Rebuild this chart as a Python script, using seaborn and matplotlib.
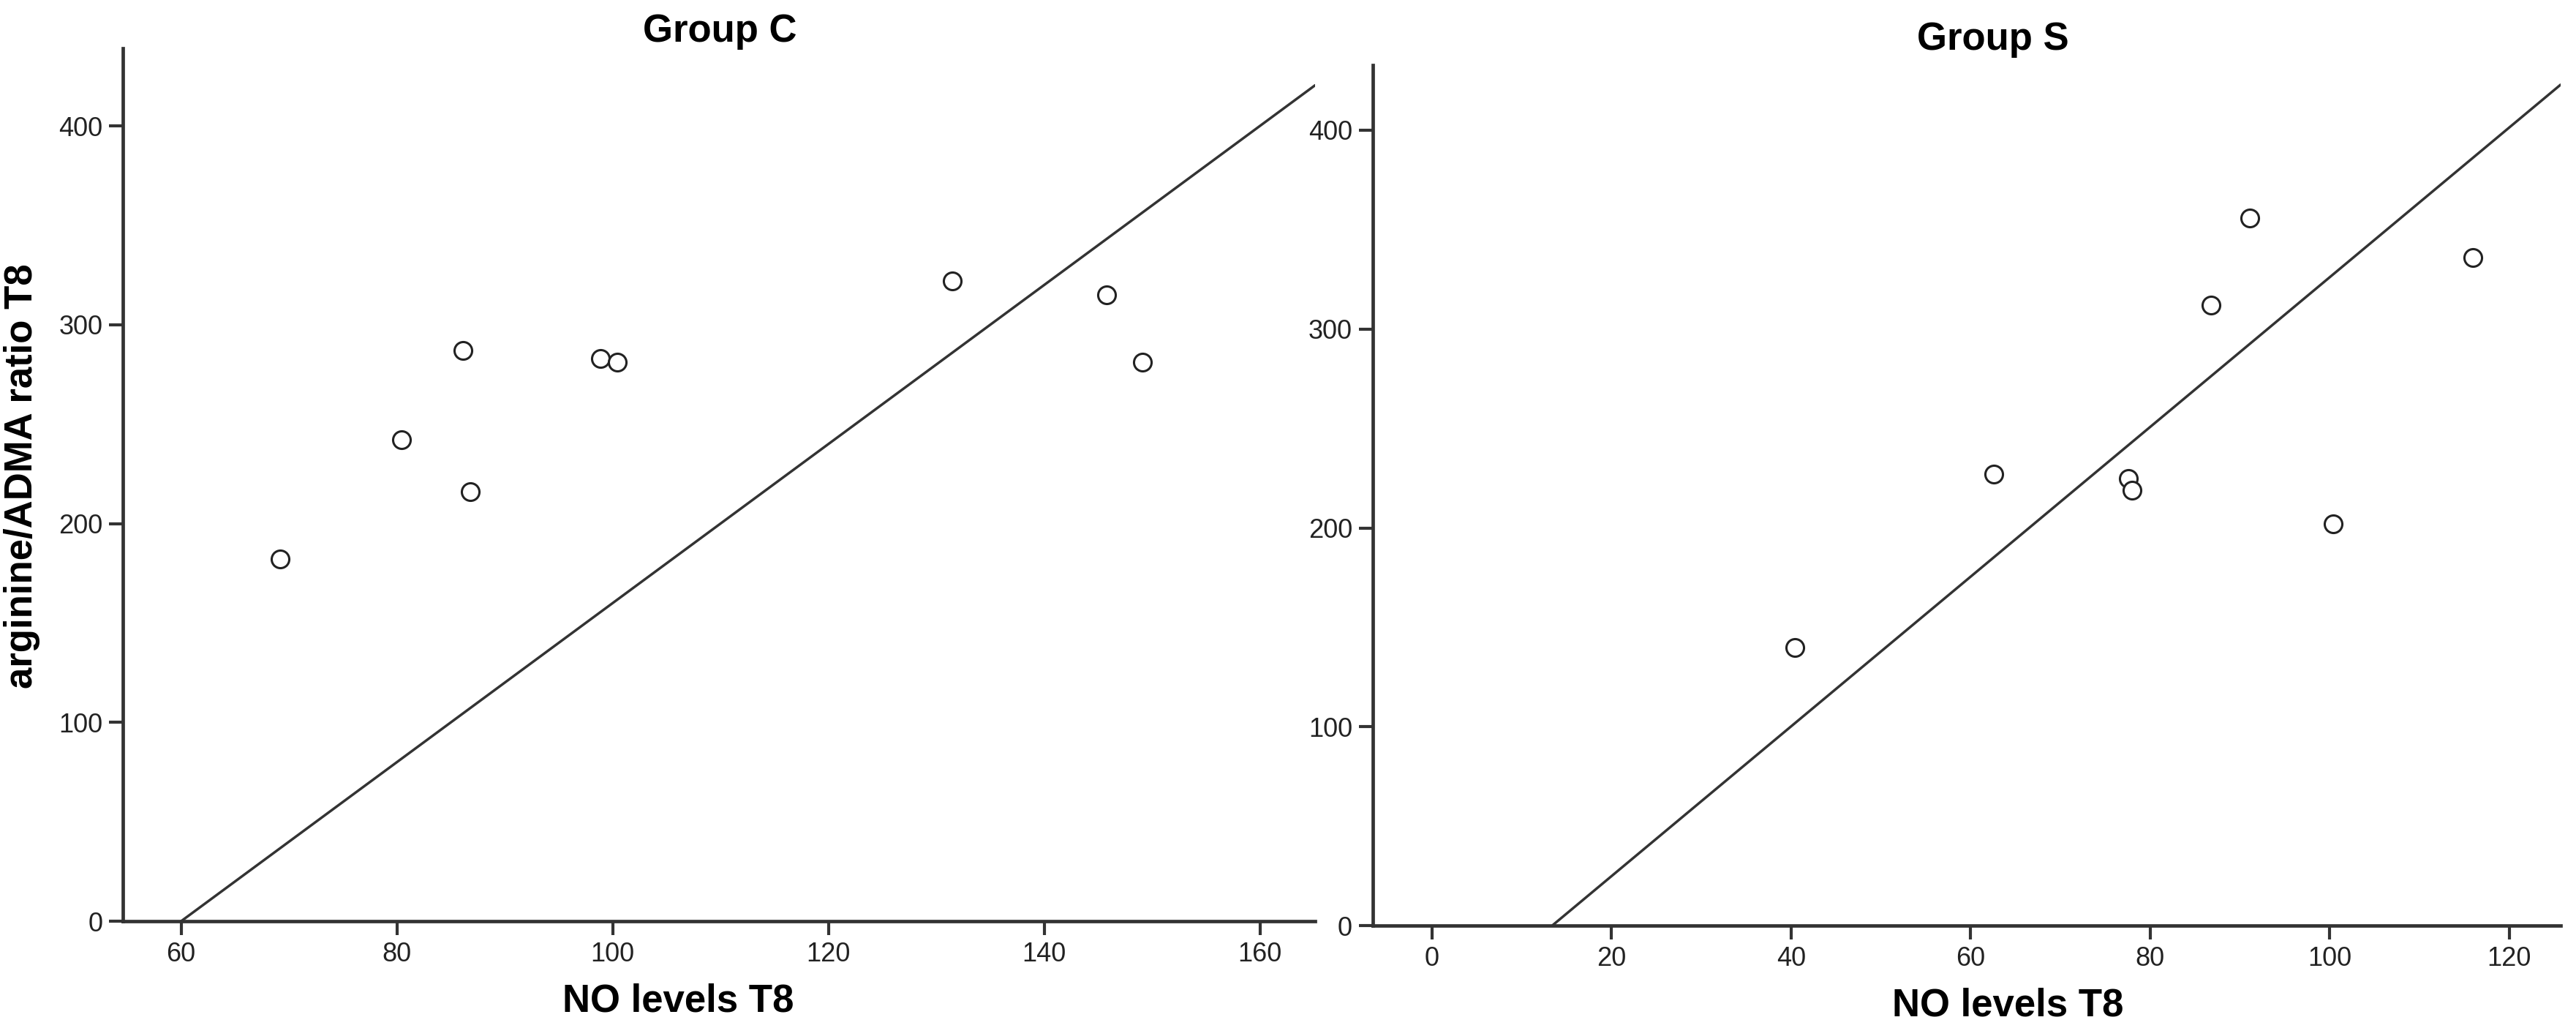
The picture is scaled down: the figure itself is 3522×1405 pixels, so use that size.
import matplotlib
matplotlib.use("Agg")
import matplotlib.pyplot as plt
import seaborn as sns
import numpy as np
import pandas as pd

# Group C: NO levels T8 vs arginine/ADMA ratio T8
c_no = [69.2, 80.4, 86.1, 86.8, 98.9, 100.4, 131.5, 145.8, 149.1]
c_ratio = [182, 242, 287, 216, 283, 281, 322, 315, 281]

# Group S
s_no = [40.4, 62.6, 77.6, 78.0, 86.8, 91.1, 100.4, 115.9]
s_ratio = [140, 227, 225, 219, 312, 356, 202, 336]

# fitted lines (slope, intercept) as drawn in the source
fit_slopes = [4.0, 3.765]
fit_intercepts = [-240.0, -50.4]

titles = ["Group C", "Group S"]
x_ticks = [np.arange(60, 161, 20), np.arange(0, 121, 20)]
y_ticks = np.arange(0, 401, 100)
x_lims = [(54.6, 165.1), (-6.6, 125.7)]
y_lims = [(0, 439), (0, 432.7)]

DARK = "#333333"

sns.set_theme(style="white")
plt.rcParams['font.family'] = ['Liberation Sans Narrow', 'Liberation Sans', 'DejaVu Sans']
plt.rcParams['axes.edgecolor'] = DARK
plt.rcParams['axes.linewidth'] = 3.4
plt.rcParams['xtick.color'] = DARK
plt.rcParams['ytick.color'] = DARK
plt.rcParams['xtick.labelcolor'] = '#222222'
plt.rcParams['ytick.labelcolor'] = '#222222'

fig = plt.figure(figsize=(35.22, 14.05), dpi=100)
ax_c = fig.add_axes([0.0477, 0.1039, 0.4628, 0.8491])
ax_s = fig.add_axes([0.5329, 0.0996, 0.4611, 0.8370])

df_c = pd.DataFrame({"NO levels T8": c_no, "ratio": c_ratio})
df_s = pd.DataFrame({"NO levels T8": s_no, "ratio": s_ratio})

panels = [(ax_c, df_c), (ax_s, df_s)]
title_pos = [(0.501, 1.019), (0.522, 1.030)]
xlabel_pos = [(0.466, -0.092), (0.535, -0.093)]

for i, (ax, df) in enumerate(panels):
    sns.scatterplot(data=df, x="NO levels T8", y="ratio", ax=ax,
                    marker='o', s=300, facecolor='white',
                    edgecolor='#222222', linewidth=2.2, zorder=3)
    ax.axline((0, fit_intercepts[i]), slope=fit_slopes[i],
              color=DARK, linewidth=2.5, zorder=2)

    ax.set_xlim(*x_lims[i])
    ax.set_ylim(*y_lims[i])
    ax.set_xticks(x_ticks[i])
    ax.set_yticks(y_ticks)
    ax.tick_params(axis='both', direction='out', length=14, width=3,
                   labelsize=26, pad=6, left=True, bottom=True)
    sns.despine(ax=ax)

    ax.text(title_pos[i][0], title_pos[i][1], titles[i], transform=ax.transAxes,
            ha='center', va='center', fontsize=38, fontweight='bold', color='black')

    ax.set_xlabel("NO levels T8", fontsize=38, fontweight='bold', color='black')
    ax.xaxis.set_label_coords(*xlabel_pos[i])
    ax.xaxis.label.set_va('center')

    if i == 0:
        ax.set_ylabel("arginine/ADMA ratio T8", fontsize=38, fontweight='bold', color='black')
        ax.yaxis.set_label_coords(-0.0845, 0.51)
        ax.yaxis.label.set_va('center')
    else:
        ax.set_ylabel("")

fig.savefig("out.png", dpi=100)
